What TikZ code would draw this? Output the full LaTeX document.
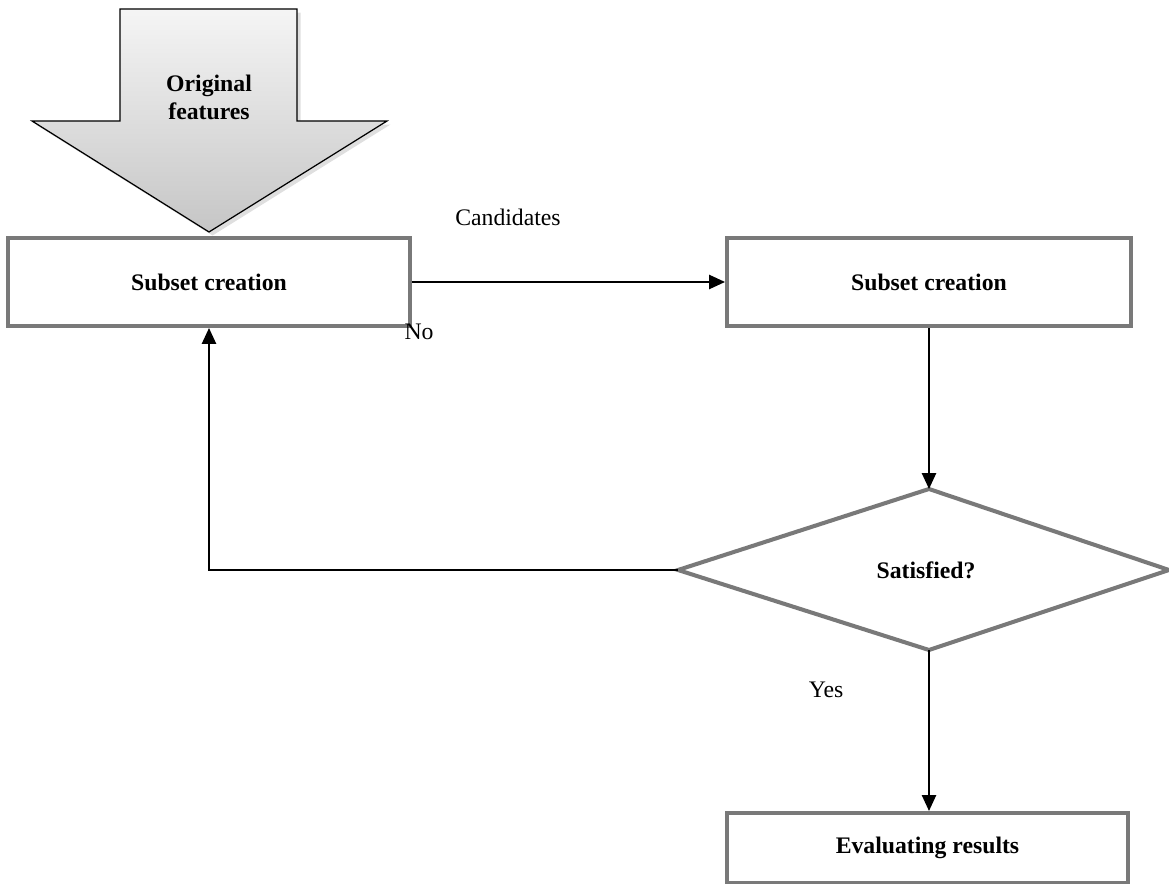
\documentclass[tikz,border=0pt]{standalone}
\usepackage{fontspec}
\setmainfont{Liberation Serif}
\usetikzlibrary{arrows.meta,shadows}
\begin{document}
\begin{tikzpicture}[x=0.02cm,y=-0.02cm,
  every node/.style={font=\fontsize{13.5}{16}\selectfont},
  gbox/.style={draw=gray!95!black,line width=2.3pt,fill=white,rectangle,
    inner sep=0pt,font=\fontsize{13.5}{16}\selectfont\bfseries},
  conn/.style={draw=black,line width=1.1pt,-{Triangle[length=9pt,width=8pt]}},
  lbl/.style={inner sep=0pt,font=\fontsize{13.5}{16}\selectfont}
]
\useasboundingbox (0,0) rectangle (1169,884);
% big input arrow
\coordinate (a1) at (120,9);
\coordinate (a2) at (297,9);
\coordinate (a3) at (297,121);
\coordinate (a4) at (387,121);
\coordinate (a5) at (209,232);
\coordinate (a6) at (32,121);
\coordinate (a7) at (120,121);
\shade[top color=gray!8,bottom color=gray!45,draw=black,line width=0.7pt,
  drop shadow={opacity=0.25,shadow xshift=2pt,shadow yshift=-2pt}]
  (a1)--(a2)--(a3)--(a4)--(a5)--(a6)--(a7)--cycle;
\node[align=center,font=\fontsize{13.5}{16}\selectfont\bfseries] (orig) at (209,97) {Original\\features};
% boxes
\node[gbox,minimum width=8.04cm,minimum height=1.76cm] (box1) at (209,282) {Subset creation};
\node[gbox,minimum width=8.08cm,minimum height=1.76cm] (box2) at (929,282) {Subset creation};
\node[gbox,minimum width=8.02cm,minimum height=1.40cm] (eval) at (927.5,848) {Evaluating results};
% diamond
\coordinate (dt) at (929,489);
\coordinate (dr) at (1169,570);
\coordinate (db) at (929,650);
\coordinate (dl) at (678,570);
\draw[draw=gray!95!black,line width=2.3pt,fill=white,line join=miter] (dt)--(dr)--(db)--(dl)--cycle;
\node[font=\fontsize{13.5}{16}\selectfont\bfseries] (sat) at (926,570) {Satisfied?};
% connectors
\draw[conn] (box1.east) -- (box2.west);
\draw[conn] (box2.south) -- (dt);
\draw[conn] (dl) -| (box1.south);
\draw[conn] (db) -- (db |- eval.north);
% labels
\node[lbl] (cand) at (508,217) {Candidates};
\node[lbl] (no) at (419,332) {No};
\node[lbl] (yes) at (826,690) {Yes};
\end{tikzpicture}
\end{document}
